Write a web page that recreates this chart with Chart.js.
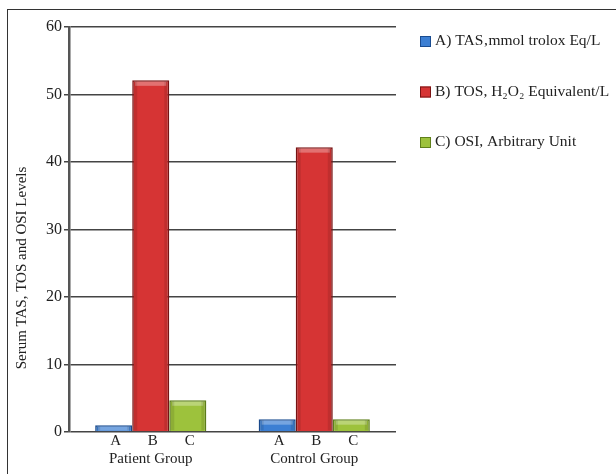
<!DOCTYPE html>
<html>
<head>
<meta charset="utf-8">
<script src="https://cdn.jsdelivr.net/npm/chart.js@4/dist/chart.umd.min.js"></script>
<style>
  html, body { margin: 0; padding: 0; background: #fff; overflow: hidden; }
  #frame { position: absolute; left: 7px; top: 9px; width: 700px; height: 600px;
           border-left: 1.5px solid #333; border-top: 1.5px solid #333; }
  #wrap { position: absolute; left: 0; top: 0; width: 616px; height: 474px; }
</style>
</head>
<body>
<div id="frame"></div>
<div id="wrap"><canvas id="c" width="616" height="474"></canvas></div>
<script>
// Groups and the three serum measures
const groups = ['Patient Group', 'Control Group'];
const seriesNames = ['A) TAS\u201Ammol trolox Eq/L', 'B) TOS, H\u2082O\u2082 Equivalent/L', 'C) OSI, Arbitrary Unit'];
const seriesLetters = ['A', 'B', 'C'];
const tasValues = [1.0, 1.9];
const tosValues = [52.1, 42.2];
const osiValues = [4.7, 1.9];
const yTicks = [0, 10, 20, 30, 40, 50, 60];
const yTitle = 'Serum TAS, TOS and OSI Levels';

const serif = '"Liberation Serif", "Times New Roman", serif';

const fills = ['#3c7fd3', '#d63434', '#9dc23c'];
const edges = ['#1a4c90', '#7a1414', '#5f801b'];

// Letters under each bar, bevelled bar tops, the rotated axis title and the side legend
const decor = {
  id: 'decor',
  afterDatasetsDraw(chart) {
    const ctx = chart.ctx;
    const area = chart.chartArea;
    ctx.save();
    chart.data.datasets.forEach((ds, i) => {
      const meta = chart.getDatasetMeta(i);
      meta.data.forEach(bar => {
        const w = bar.width;
        const left = bar.x - w / 2;
        ctx.fillStyle = 'rgba(255,255,255,0.30)';
        ctx.fillRect(left + 3, bar.y + 1.5, w - 6, 4);
        ctx.fillStyle = 'rgba(0,0,0,0.10)';
        const h = bar.base - bar.y - 2;
        if (h > 0) {
          ctx.fillRect(left + 1, bar.y + 1, 4, h);
          ctx.fillRect(left + w - 5, bar.y + 1, 4, h);
        }
        ctx.fillStyle = '#222';
        ctx.font = '15px ' + serif;
        ctx.textAlign = 'center';
        ctx.textBaseline = 'middle';
        ctx.fillText(seriesLetters[i], bar.x + 2, area.bottom + 9);
      });
    });
    ctx.restore();
  },
  afterDraw(chart) {
    const ctx = chart.ctx;
    ctx.save();
    // y axis title
    ctx.translate(22, 268);
    ctx.rotate(-Math.PI / 2);
    ctx.fillStyle = '#222';
    ctx.font = '15px ' + serif;
    ctx.textAlign = 'center';
    ctx.textBaseline = 'middle';
    ctx.fillText(yTitle, 0, 0);
    ctx.restore();

    // legend
    ctx.save();
    const lx = 420, ly = 41, step = 50.5;
    chart.data.datasets.forEach((ds, i) => {
      const y = ly + i * step;
      ctx.fillStyle = ds.backgroundColor;
      ctx.fillRect(lx, y - 5, 11, 11);
      ctx.strokeStyle = ds.borderColor;
      ctx.lineWidth = 1;
      ctx.strokeRect(lx + 0.5, y - 4.5, 10, 10);
      ctx.fillStyle = '#222';
      ctx.font = '15.5px ' + serif;
      ctx.textAlign = 'left';
      ctx.textBaseline = 'middle';
      ctx.fillText(ds.label, lx + 15, y);
    });
    ctx.restore();
  }
};

new Chart(document.getElementById('c'), {
  type: 'bar',
  data: {
    labels: groups,
    datasets: [
      { label: seriesNames[0], data: tasValues },
      { label: seriesNames[1], data: tosValues },
      { label: seriesNames[2], data: osiValues }
    ].map((d, i) => Object.assign(d, {
      backgroundColor: fills[i],
      borderColor: edges[i],
      borderWidth: 1.5,
      barPercentage: 1.0,
      categoryPercentage: 0.68
    }))
  },
  options: {
    responsive: false,
    animation: false,
    devicePixelRatio: 1,
    layout: { padding: { left: 44, top: 27, bottom: 0, right: 220 } },
    plugins: {
      tooltip: { enabled: false },
      legend: { display: false }
    },
    scales: {
      x: {
        grid: { display: false, drawTicks: false },
        border: { display: false },
        afterFit(axis) { axis.height = 42; },
        ticks: {
          font: { family: serif, size: 15 },
          color: '#222',
          padding: 18
        }
      },
      y: {
        min: 0,
        max: 60,
        afterBuildTicks(axis) { axis.ticks = yTicks.map(v => ({ value: v })); },
        grid: { color: '#444', lineWidth: 1.5, tickLength: 5 },
        border: { color: '#555', width: 2.5 },
        ticks: {
          font: { family: serif, size: 16 },
          color: '#222',
          padding: 2
        }
      }
    }
  },
  plugins: [decor]
});
</script>
</body>
</html>
